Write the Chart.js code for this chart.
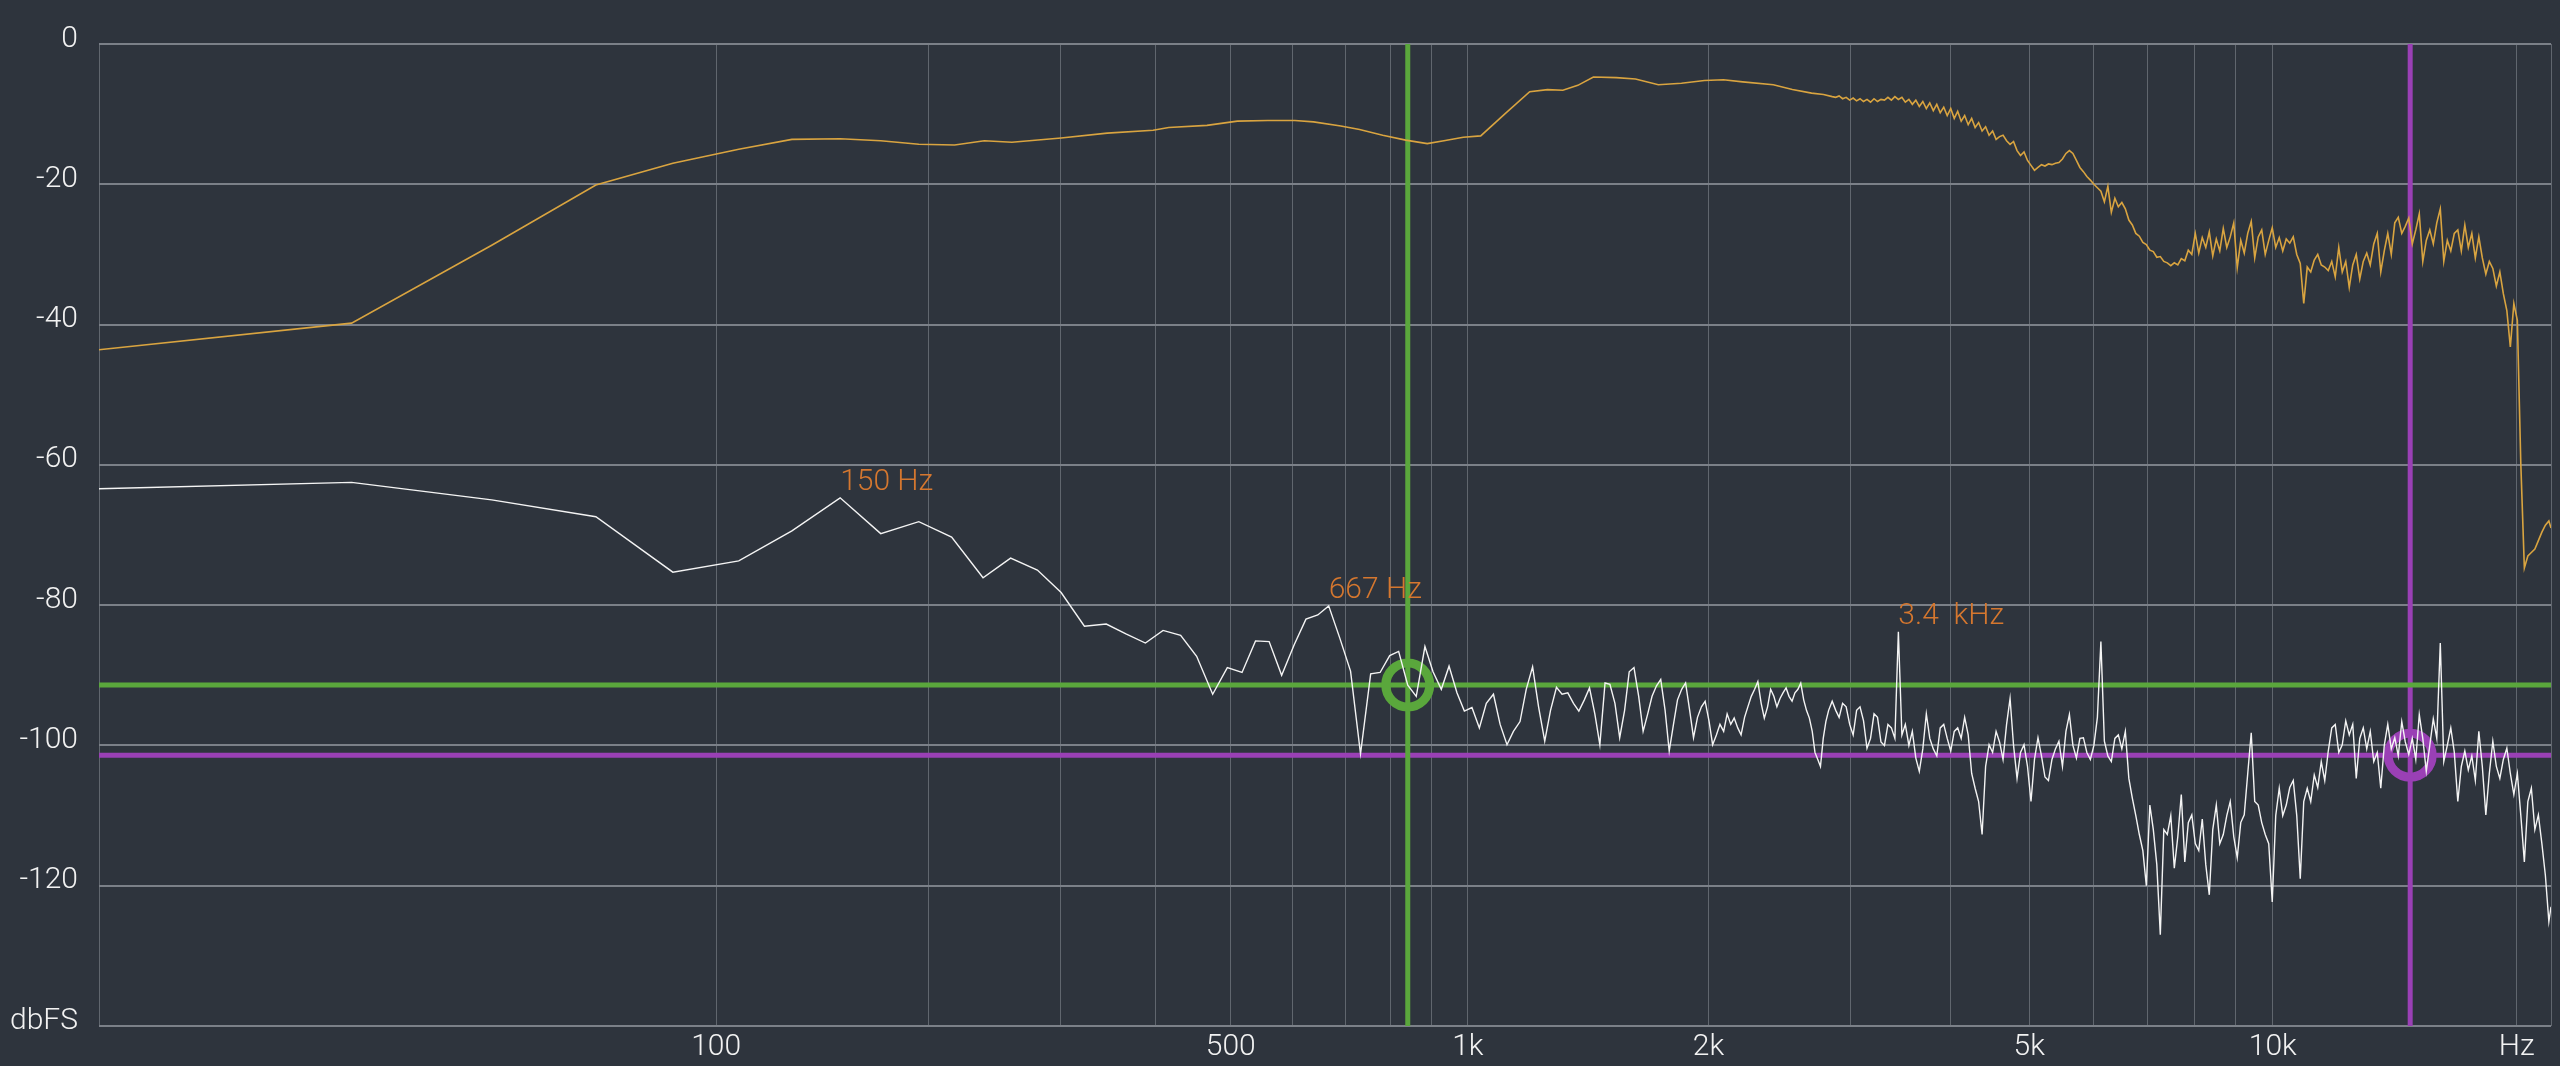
<!DOCTYPE html>
<html>
<head>
<meta charset="utf-8">
<title>Spectrum</title>
<script src="https://cdn.jsdelivr.net/npm/chart.js@4.4.1/dist/chart.umd.min.js"></script>
<style>
  html, body { margin: 0; padding: 0; background: #2e343d; }
  #spectrum { display: block; }
</style>
</head>
<body>
<canvas id="spectrum" width="2560" height="1066"></canvas>
<script>
// Frequency axis: log10(Hz + offset), so 0 Hz (FFT bin 0) sits on the left edge
const HZ_OFFSET = 21;
const HZ_MIN = 0;
const HZ_MAX = 22050;

const xGridHz = [0, 100, 200, 300, 400, 500, 600, 700, 800, 900, 1000, 2000, 3000, 4000, 5000, 6000, 7000, 8000, 9000, 10000, 20000, 22050];
const xGridText = ["", "100", "", "", "", "500", "", "", "", "", "1k", "2k", "", "", "5k", "", "", "", "", "10k", "Hz", ""];
const yTicks = [0, -20, -40, -60, -80, -100, -120, -140];
const yTickText = ["0", "-20", "-40", "-60", "-80", "-100", "-120", "dbFS"];

// Tone spectrum (gold), low part
const toneHz = [0, 22, 43, 65, 86, 108, 129, 151, 172, 194, 217, 238, 259, 301, 346, 397, 416, 466, 510, 558, 604, 638, 691, 730, 781, 835, 889, 933, 987, 1038, 1115, 1196, 1259, 1316, 1374, 1437, 1535, 1622, 1732, 1851, 1977, 2088, 2206, 2408, 2543, 2687, 2780];
const toneDb = [-43.6, -39.8, -28.7, -20.1, -17.0, -15.0, -13.6, -13.5, -13.8, -14.3, -14.4, -13.8, -14.0, -13.4, -12.7, -12.3, -11.9, -11.6, -11.0, -10.9, -10.9, -11.1, -11.7, -12.2, -13.0, -13.7, -14.2, -13.8, -13.3, -13.1, -9.9, -6.8, -6.5, -6.6, -5.9, -4.7, -4.8, -5.0, -5.8, -5.6, -5.2, -5.1, -5.4, -5.8, -6.5, -7.0, -7.2];

// Noise floor (white), low part: FFT bins 0..131
const noiseHz = [0, 22, 43, 65, 86, 108, 129, 151, 172, 194, 215, 237, 258, 280, 301, 323, 345, 366, 388, 409,
  431, 452, 474, 495, 517, 538, 560, 581, 603, 624, 646, 667, 689, 711, 732, 754, 775, 797, 818, 840,
  861, 883, 904, 926, 947, 969, 990, 1012, 1034, 1055, 1077, 1098, 1120, 1141, 1163, 1184, 1206, 1227, 1249, 1270,
  1292, 1313, 1335, 1357, 1378, 1400, 1421, 1443, 1464, 1486, 1507, 1529, 1550, 1572, 1593, 1615, 1637, 1658, 1680, 1701,
  1723, 1744, 1766, 1787, 1809, 1830, 1852, 1873, 1895, 1916, 1938, 1960, 1981, 2003, 2024, 2046, 2067, 2089, 2110, 2132,
  2153, 2175, 2196, 2218, 2239, 2261, 2283, 2304, 2326, 2347, 2369, 2390, 2412, 2433, 2455, 2476, 2498, 2519, 2541, 2562,
  2584, 2605, 2627, 2648, 2670, 2692, 2713, 2735, 2756, 2778, 2799, 2821];
const noiseDb = [-63.4, -62.5, -65.0, -67.4, -75.3, -73.7, -69.4, -64.7, -69.8, -68.1, -70.3, -76.1, -73.3, -75.0, -78.2, -83.0, -82.7, -84.1, -85.4, -83.6,
  -84.3, -87.3, -92.7, -88.9, -89.6, -85.1, -85.2, -90.0, -85.6, -82.0, -81.4, -80.1, -84.7, -89.4, -101.2, -89.8, -89.6, -87.2, -86.6, -91.4,
  -93.0, -85.9, -89.5, -92.0, -88.7, -92.5, -95.1, -94.6, -97.5, -94.0, -92.7, -97.0, -99.9, -98.0, -96.6, -92.0, -88.8, -94.5, -99.4, -95.0,
  -91.7, -92.7, -92.5, -94.0, -95.1, -93.5, -91.8, -95.5, -99.9, -91.1, -91.3, -94.0, -98.9, -95.0, -89.5, -88.9, -93.0, -98.0, -95.5, -93.0,
  -91.5, -90.6, -95.0, -100.8, -97.0, -93.5, -92.0, -91.1, -95.0, -98.9, -96.0, -94.5, -93.7, -96.5, -99.9, -98.5, -97.0, -98.0, -95.5, -97.0,
  -96.1, -97.5, -98.5, -96.0, -94.5, -93.0, -92.0, -90.9, -94.0, -96.1, -94.5, -92.0, -93.0, -94.5, -93.3, -92.5, -91.8, -93.0, -93.7, -92.5,
  -92.0, -91.1, -93.5, -95.0, -96.1, -98.0, -101.0, -102.0, -103.0, -99.0, -96.6, -95.0];

// Dense upper part, shared frequency list for both traces
const denseHz = [2850, 2879, 2907, 2936, 2966, 2996, 3026, 3056, 3086, 3117,
  3148, 3180, 3212, 3244, 3276, 3309, 3342, 3375, 3409, 3443,
  3478, 3512, 3548, 3583, 3619, 3655, 3692, 3729, 3766, 3804,
  3842, 3880, 3919, 3958, 3998, 4038, 4078, 4119, 4160, 4202,
  4244, 4286, 4329, 4372, 4416, 4460, 4505, 4550, 4595, 4641,
  4688, 4735, 4782, 4830, 4878, 4927, 4976, 5026, 5076, 5127,
  5178, 5230, 5282, 5335, 5388, 5442, 5497, 5552, 5607, 5663,
  5720, 5777, 5835, 5893, 5952, 6012, 6072, 6133, 6194, 6256,
  6318, 6382, 6445, 6510, 6575, 6641, 6707, 6774, 6842, 6911,
  6980, 7050, 7120, 7191, 7263, 7336, 7409, 7483, 7558, 7634,
  7710, 7787, 7865, 7944, 8023, 8103, 8184, 8266, 8349, 8432,
  8517, 8602, 8688, 8775, 8862, 8951, 9040, 9131, 9222, 9314,
  9407, 9501, 9596, 9692, 9789, 9887, 9986, 10086, 10187, 10289,
  10392, 10496, 10601, 10707, 10814, 10922, 11031, 11141, 11253, 11365,
  11479, 11594, 11710, 11827, 11945, 12065, 12185, 12307, 12430, 12554,
  12680, 12807, 12935, 13064, 13195, 13327, 13460, 13595, 13731, 13868,
  14007, 14147, 14288, 14431, 14575, 14721, 14868, 15017, 15167, 15319,
  15472, 15627, 15783, 15941, 16100, 16261, 16424, 16588, 16754, 16922,
  17091, 17262, 17434, 17609, 17785, 17963, 18142, 18324, 18507, 18692,
  18879, 19068, 19258, 19451, 19645, 19842, 20040, 20240, 20443, 20647,
  20854, 21062, 21273, 21486, 21700, 21917, 22050];

const denseToneDb = [-7.5, -7.6, -7.4, -7.8, -7.6, -8.0, -7.7, -8.1, -7.8, -8.2,
  -7.9, -8.3, -7.8, -8.2, -7.9, -8.0, -7.6, -8.0, -7.5, -7.9,
  -7.6, -8.3, -7.9, -8.6, -8.0, -8.9, -8.2, -9.2, -8.4, -9.5,
  -8.6, -9.8, -9.0, -10.2, -9.2, -10.6, -9.6, -11.0, -10.2, -11.5,
  -10.6, -11.9, -11.2, -12.4, -11.8, -13.0, -12.4, -13.6, -13.2, -13.0,
  -13.8, -14.3, -13.9, -15.2, -15.9, -15.4, -16.6, -17.3, -18.0, -17.6,
  -17.2, -17.4, -17.1, -17.2, -17.0, -16.9, -16.4, -15.6, -15.2, -15.6,
  -16.6, -17.6, -18.2, -18.9, -19.4, -20.0, -20.5, -21.0, -22.5, -20.3,
  -24.0, -22.0, -23.2, -22.6, -23.5, -25.1, -25.8, -27.0, -27.4, -28.3,
  -28.6, -29.4, -29.6, -30.4, -30.3, -31.0, -31.2, -31.6, -31.2, -31.5,
  -30.6, -30.9, -29.4, -30.0, -27.0, -29.8, -27.6, -29.0, -26.8, -30.2,
  -27.8, -29.5, -26.3, -29.0, -27.5, -25.5, -31.9, -28.0, -29.8, -27.0,
  -25.3, -30.5, -27.5, -26.5, -30.0, -28.0, -26.2, -29.0, -27.6, -29.5,
  -27.8, -28.4, -27.5, -30.0, -31.3, -37.0, -31.8, -32.5, -30.8, -30.0,
  -31.5, -31.8, -32.3, -31.0, -33.2, -29.0, -32.5, -31.0, -34.7, -31.5,
  -30.0, -33.5, -31.0, -29.8, -31.5, -28.5, -27.0, -32.5, -29.5, -27.0,
  -30.0, -25.5, -24.7, -27.0, -26.0, -24.8, -28.5, -26.5, -24.2, -31.0,
  -28.0, -26.5, -28.5, -25.5, -23.5, -31.0, -28.0, -29.5, -27.0, -26.5,
  -29.5, -25.8, -29.0, -27.0, -30.5, -27.5, -30.5, -32.8, -31.0, -32.0,
  -34.5, -32.5, -35.6, -38.0, -43.2, -37.0, -39.4, -60.0, -74.7, -73.0,
  -72.5, -72.0, -70.8, -69.6, -68.6, -68.0, -69.0];

const denseNoiseDb = [-93.7, -95.0, -96.0, -94.0, -94.5, -97.0, -98.5, -95.0, -94.5, -96.5,
  -100.4, -99.0, -95.5, -96.0, -99.5, -100.0, -97.0, -97.5, -99.0, -83.8,
  -98.5, -97.0, -100.0, -98.0, -101.8, -103.7, -100.5, -95.5, -99.0, -100.5,
  -101.5, -97.5, -97.0, -99.0, -100.8, -98.0, -97.5, -99.0, -96.0, -98.5,
  -104.0, -106.1, -108.0, -112.7, -103.0, -99.9, -101.0, -98.0, -99.5, -102.0,
  -97.0, -93.3, -100.0, -104.7, -101.0, -99.9, -103.0, -108.0, -102.0, -98.9,
  -101.5, -104.5, -105.0, -102.0, -100.5, -99.4, -103.0, -98.0, -95.6, -100.0,
  -101.8, -99.0, -98.9, -101.0, -102.0, -100.0, -96.0, -85.2, -99.4, -101.5,
  -102.3, -99.0, -98.5, -100.5, -98.0, -104.7, -107.5, -110.0, -112.7, -115.0,
  -120.0, -108.5, -112.0, -117.0, -127.0, -112.0, -112.7, -110.0, -117.5, -113.0,
  -107.0, -116.6, -111.0, -109.9, -114.0, -115.0, -110.5, -117.0, -121.3, -112.0,
  -108.5, -114.0, -112.7, -110.0, -108.0, -113.0, -116.0, -111.0, -109.9, -104.0,
  -98.2, -108.0, -108.5, -111.0, -112.7, -114.0, -122.3, -110.0, -106.1, -110.0,
  -108.5, -106.0, -105.0, -110.0, -119.0, -108.0, -106.1, -108.0, -104.2, -106.0,
  -102.3, -105.0, -100.8, -97.5, -97.0, -101.0, -99.9, -96.5, -98.5, -97.0,
  -104.7, -99.0, -97.5, -100.5, -98.0, -102.3, -101.0, -106.1, -100.0, -97.0,
  -100.5, -98.9, -101.5, -96.6, -99.5, -101.3, -99.0, -102.0, -95.6, -99.0,
  -103.7, -100.0, -96.2, -99.0, -85.4, -102.3, -100.0, -97.5, -101.0, -108.0,
  -103.0, -100.8, -103.5, -101.5, -105.0, -98.0, -103.0, -109.9, -104.0, -99.4,
  -103.0, -104.7, -102.0, -100.4, -104.0, -107.0, -104.0, -110.0, -116.6, -108.0,
  -106.1, -112.0, -109.9, -114.0, -118.5, -125.1, -123.0];

// Cursors (green / purple) and peak labels
const cursorHz = [840, 14780];
const cursorDb = [-91.4, -101.4];
const cursorColor = ["#5aa73c", "#9a40b5"];

const peakText = ["150 Hz", "667 Hz", "3.4  kHz"];
const peakHz = [151, 667, 3443];
const peakDb = [-64.7, -80.1, -83.8];

const FONT = '"Roboto", "Liberation Sans", "DejaVu Sans", sans-serif';

class HzScale extends Chart.LinearScale {
    buildTicks() {
        return xGridHz.map(v => ({ value: v }));
    }
    configure() {
        super.configure();
        this._lo = Math.log10(this.min + HZ_OFFSET);
        this._hi = Math.log10(this.max + HZ_OFFSET);
    }
    getPixelForValue(value) {
        const d = (Math.log10(value + HZ_OFFSET) - this._lo) / (this._hi - this._lo);
        return this.getPixelForDecimal(d);
    }
    getValueForPixel(pixel) {
        const d = this.getDecimalForPixel(pixel);
        return Math.pow(10, this._lo + d * (this._hi - this._lo)) - HZ_OFFSET;
    }
}
HzScale.id = "hz";
HzScale.defaults = Chart.LinearScale.defaults;
Chart.register(HzScale);

const toPoints = (xs, ys) => xs.map((x, i) => ({ x, y: ys[i] }));

const peakLabels = {
    id: "peakLabels",
    afterDatasetsDraw(chart) {
        const { ctx, scales } = chart;
        ctx.save();
        ctx.font = `300 30px ${FONT}`;
        ctx.fillStyle = "#d5772f";
        ctx.textAlign = "left";
        ctx.textBaseline = "alphabetic";
        peakText.forEach((t, i) => {
            ctx.fillText(t, scales.x.getPixelForValue(peakHz[i]), scales.y.getPixelForValue(peakDb[i]) - 8);
        });
        ctx.restore();
    }
};

Chart.defaults.font.family = FONT;
Chart.defaults.font.size = 30;
Chart.defaults.font.weight = "300";
Chart.defaults.color = "#f2f2f2";

const datasets = [];

// cursor lines, drawn underneath everything
cursorHz.forEach((hz, i) => {
    datasets.push({
        data: [{ x: hz, y: 0 }, { x: hz, y: -140 }],
        borderColor: cursorColor[i], borderWidth: 5, pointRadius: 0, order: 5
    });
    datasets.push({
        data: [{ x: HZ_MIN, y: cursorDb[i] }, { x: HZ_MAX, y: cursorDb[i] }],
        borderColor: cursorColor[i], borderWidth: 5, pointRadius: 0, order: 5
    });
});

datasets.push({
    data: toPoints(cursorHz, cursorDb),
    showLine: false,
    pointRadius: 22,
    pointBorderWidth: 9,
    pointBackgroundColor: "rgba(0,0,0,0)",
    pointBorderColor: cursorColor,
    order: 4
});

datasets.push({
    label: "tone",
    data: toPoints(toneHz, toneDb).concat(toPoints(denseHz, denseToneDb)),
    borderColor: "#d9a440",
    borderWidth: 1.6,
    pointRadius: 0,
    order: 2
});

datasets.push({
    label: "noise",
    data: toPoints(noiseHz, noiseDb).concat(toPoints(denseHz, denseNoiseDb)),
    borderColor: "#f4f4f4",
    borderWidth: 1.4,
    pointRadius: 0,
    order: 1
});

new Chart(document.getElementById("spectrum"), {
    type: "line",
    data: { datasets },
    plugins: [peakLabels],
    options: {
        responsive: false,
        animation: false,
        devicePixelRatio: 1,
        layout: { autoPadding: false, padding: { top: 44, right: 9, left: 0, bottom: 0 } },
        plugins: { legend: { display: false }, tooltip: { enabled: false } },
        elements: { line: { tension: 0 } },
        scales: {
            x: {
                type: "hz",
                min: HZ_MIN,
                max: HZ_MAX,
                afterFit: s => {
                    s.height = 40;
                    s.paddingLeft = 0;
                    s.paddingRight = 0;
                },
                grid: { color: "#60666e", lineWidth: 1, drawTicks: false },
                border: { display: false },
                ticks: {
                    autoSkip: false,
                    maxRotation: 0,
                    minRotation: 0,
                    padding: 3,
                    callback: (v, i) => xGridText[i]
                }
            },
            y: {
                min: -140,
                max: 0,
                afterFit: s => { s.width = 99; },
                afterBuildTicks: s => { s.ticks = yTicks.map(v => ({ value: v })); },
                grid: { color: "#7b8088", lineWidth: 2, drawTicks: false },
                border: { display: false },
                ticks: {
                    padding: 21,
                    labelOffset: -5,
                    callback: v => yTickText[yTicks.indexOf(v)]
                }
            }
        }
    }
});
</script>
</body>
</html>
